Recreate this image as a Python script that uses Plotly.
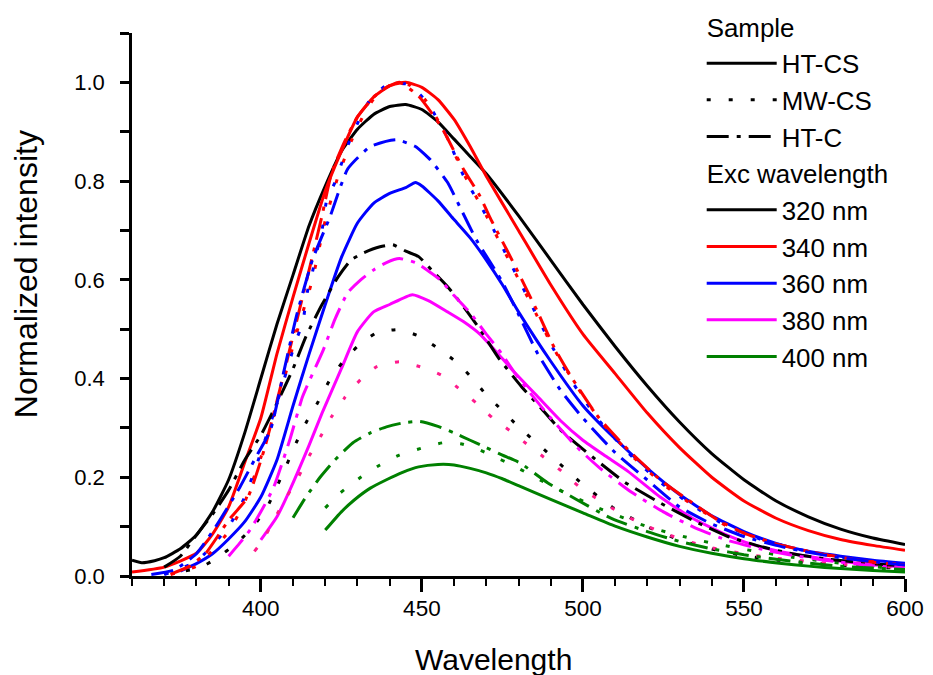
import plotly.graph_objects as go

# ---------------- data ----------------
sample_names = ["HT-CS", "MW-CS", "HT-C"]
exc_names = ["320 nm", "340 nm", "360 nm", "380 nm", "400 nm"]
x_title = "Wavelength"
y_title = "Normalized intensity"

# HT-CS (solid)
x_htcs_320 = [360, 363, 367, 370, 375, 380, 385, 390, 395, 400, 405, 410, 415, 420, 425, 430, 435, 440, 445, 450, 455, 460, 465, 470, 480, 490, 500, 510, 520, 530, 540, 550, 560, 570, 580, 590, 600]
y_htcs_320 = [0.032, 0.027, 0.031, 0.037, 0.055, 0.083, 0.13, 0.195, 0.29, 0.40, 0.51, 0.61, 0.71, 0.79, 0.86, 0.905, 0.935, 0.951, 0.955, 0.945, 0.92, 0.885, 0.85, 0.815, 0.73, 0.64, 0.55, 0.465, 0.385, 0.312, 0.248, 0.195, 0.152, 0.12, 0.095, 0.077, 0.064]

x_htcs_340 = [360, 370, 380, 385, 390, 395, 400, 405, 410, 415, 420, 425, 430, 435, 440, 445, 450, 455, 460, 465, 470, 480, 490, 500, 510, 520, 530, 540, 550, 560, 570, 580, 590, 600]
y_htcs_340 = [0.008, 0.018, 0.046, 0.085, 0.14, 0.23, 0.32, 0.45, 0.565, 0.675, 0.78, 0.86, 0.93, 0.97, 0.993, 1.0, 0.99, 0.965, 0.925, 0.87, 0.81, 0.70, 0.59, 0.49, 0.41, 0.33, 0.26, 0.2, 0.152, 0.117, 0.092, 0.074, 0.062, 0.052]

x_htcs_360 = [375, 380, 385, 390, 395, 400, 405, 410, 415, 420, 425, 430, 435, 440, 445, 448, 450, 455, 460, 465, 470, 475, 480, 490, 500, 510, 520, 530, 540, 550, 560, 570, 580, 590, 600]
y_htcs_360 = [0.01, 0.025, 0.045, 0.075, 0.11, 0.16, 0.235, 0.345, 0.45, 0.55, 0.645, 0.715, 0.755, 0.775, 0.787, 0.797, 0.79, 0.76, 0.722, 0.685, 0.64, 0.59, 0.535, 0.435, 0.345, 0.278, 0.218, 0.165, 0.122, 0.09, 0.066, 0.05, 0.04, 0.032, 0.026]

x_htcs_380 = [400, 405, 409, 415, 419, 425, 430, 435, 440, 447, 452, 458, 463, 468, 473, 478, 486, 493, 500, 507, 514, 524, 534, 544, 553, 565, 580, 590, 600]
y_htcs_380 = [0.073, 0.12, 0.174, 0.265, 0.33, 0.42, 0.495, 0.535, 0.55, 0.57, 0.558, 0.535, 0.515, 0.49, 0.455, 0.418, 0.363, 0.315, 0.275, 0.243, 0.212, 0.16, 0.117, 0.085, 0.063, 0.045, 0.03, 0.023, 0.018]

x_htcs_400 = [420, 425, 429, 434, 439, 444, 449, 455, 460, 465, 470, 475, 480, 490, 500, 510, 520, 530, 540, 550, 561, 570, 580, 590, 600]
y_htcs_400 = [0.093, 0.13, 0.154, 0.178, 0.195, 0.21, 0.221, 0.226, 0.225, 0.218, 0.209, 0.197, 0.183, 0.155, 0.128, 0.101, 0.079, 0.06, 0.046, 0.035, 0.026, 0.02, 0.015, 0.011, 0.008]

# MW-CS (dotted)
x_mwcs_320 = [370, 376, 381, 386, 392.6, 397.6, 402, 408, 411, 414, 417.8, 421.5, 425.5, 430, 436, 443, 449.4, 455.7, 461, 466, 470, 475, 479.6, 489, 499, 509, 520, 530, 541, 551, 561, 571.5, 585, 600]
y_mwcs_320 = [0.005, 0.01, 0.016, 0.035, 0.067, 0.1, 0.14, 0.225, 0.27, 0.31, 0.353, 0.398, 0.434, 0.465, 0.493, 0.499, 0.485, 0.458, 0.432, 0.398, 0.367, 0.335, 0.305, 0.25, 0.191, 0.14, 0.1, 0.073, 0.053, 0.04, 0.032, 0.026, 0.02, 0.015]

x_mwcs_340 = [372, 380, 390, 395, 400, 405, 411, 416, 420, 424, 428, 432, 436, 441, 446, 451, 457, 463, 470, 477, 484, 491, 498, 506, 515, 525, 535, 545, 555, 565, 575, 587, 600]
y_mwcs_340 = [0.003, 0.02, 0.09, 0.15, 0.24, 0.345, 0.49, 0.6, 0.72, 0.81, 0.88, 0.935, 0.975, 0.997, 0.995, 0.965, 0.9, 0.815, 0.73, 0.64, 0.55, 0.46, 0.385, 0.31, 0.245, 0.185, 0.14, 0.1, 0.075, 0.057, 0.043, 0.031, 0.023]

x_mwcs_360 = [370, 380, 390, 395, 400, 405, 410.7, 413, 414.4, 416, 417.5, 419, 420.5, 423, 425.5, 427.7, 431, 434, 439.5, 445.7, 451.6, 457.8, 463, 471, 477.4, 484, 490, 497, 505, 514, 524, 534, 545, 555, 565, 575, 587, 600]
y_mwcs_360 = [0.003, 0.03, 0.1, 0.16, 0.25, 0.35, 0.473, 0.513, 0.574, 0.615, 0.66, 0.70, 0.763, 0.797, 0.844, 0.884, 0.93, 0.966, 0.996, 0.996, 0.96, 0.89, 0.81, 0.718, 0.635, 0.55, 0.47, 0.39, 0.315, 0.25, 0.19, 0.143, 0.1, 0.075, 0.057, 0.043, 0.032, 0.024]

x_mwcs_380 = [398, 400.7, 404, 408, 411.6, 415, 418.5, 422, 426, 431, 436, 443, 449.4, 456, 462, 467, 472, 477.4, 483.6, 489, 494, 499, 505, 511.5, 518, 525, 538.6, 556, 576, 600]
y_mwcs_380 = [0.05, 0.073, 0.113, 0.16, 0.2, 0.243, 0.282, 0.323, 0.361, 0.398, 0.424, 0.434, 0.424, 0.407, 0.377, 0.35, 0.32, 0.294, 0.262, 0.235, 0.209, 0.18, 0.154, 0.128, 0.107, 0.087, 0.059, 0.039, 0.026, 0.017]

x_mwcs_400 = [420, 424.6, 431, 437, 443, 450.4, 456.6, 462, 467, 472, 478, 486, 494, 504, 520, 535.5, 551, 565, 580, 590, 600]
y_mwcs_400 = [0.138, 0.168, 0.2, 0.225, 0.245, 0.26, 0.27, 0.268, 0.258, 0.243, 0.225, 0.197, 0.17, 0.14, 0.1, 0.073, 0.053, 0.038, 0.026, 0.019, 0.013]

# HT-C (dash-dot)
x_htc_320 = [370, 375, 380, 385, 390, 395, 400, 405, 410, 414, 419, 424, 428, 432, 437, 441, 445, 449, 453, 458, 463, 468, 474, 481, 487, 493, 503, 513, 524, 535, 545, 555, 565, 575, 588, 600]
y_htc_320 = [0.018, 0.04, 0.083, 0.125, 0.174, 0.235, 0.285, 0.35, 0.42, 0.485, 0.55, 0.606, 0.64, 0.655, 0.667, 0.671, 0.658, 0.647, 0.62, 0.586, 0.545, 0.5, 0.44, 0.383, 0.34, 0.296, 0.241, 0.19, 0.148, 0.11, 0.08, 0.06, 0.045, 0.035, 0.026, 0.02]

x_htc_340 = [372, 378, 383, 390, 396, 401, 406, 411, 415, 419, 422, 426, 430, 435, 439, 443, 449, 456, 463, 468, 471, 478, 486, 491, 497, 505, 514, 524, 534, 542, 550, 560, 570, 580, 590, 600]
y_htc_340 = [0.004, 0.02, 0.047, 0.113, 0.16, 0.255, 0.38, 0.513, 0.62, 0.73, 0.817, 0.88, 0.93, 0.97, 0.99, 1.0, 0.972, 0.91, 0.823, 0.77, 0.728, 0.64, 0.534, 0.464, 0.397, 0.32, 0.256, 0.195, 0.148, 0.113, 0.087, 0.065, 0.05, 0.038, 0.028, 0.022]

x_htc_360 = [366, 373, 380, 386, 393.5, 398, 403, 407, 411, 416, 421.5, 427, 434, 442, 448, 452.5, 458, 462, 467, 474.6, 480, 486, 493, 500, 510, 519, 530, 539.5, 550, 560, 570, 580, 590, 600]
y_htc_360 = [0.003, 0.012, 0.045, 0.1, 0.18, 0.235, 0.296, 0.41, 0.525, 0.64, 0.728, 0.825, 0.87, 0.884, 0.87, 0.844, 0.797, 0.745, 0.68, 0.6, 0.53, 0.45, 0.377, 0.32, 0.25, 0.2, 0.14, 0.107, 0.08, 0.062, 0.048, 0.037, 0.029, 0.022]

x_htc_380 = [390, 393.5, 396.6, 400, 404, 409, 413, 419.4, 423, 427, 431, 435, 439, 443, 448, 452, 455.7, 460, 465, 470, 474.6, 479, 483.6, 490, 498, 505, 515, 525, 535, 545, 555, 565, 575, 588, 600]
y_htc_380 = [0.04, 0.067, 0.093, 0.13, 0.18, 0.276, 0.364, 0.458, 0.52, 0.574, 0.6, 0.62, 0.635, 0.643, 0.635, 0.618, 0.6, 0.568, 0.533, 0.49, 0.452, 0.41, 0.371, 0.32, 0.262, 0.22, 0.17, 0.13, 0.097, 0.072, 0.055, 0.042, 0.032, 0.022, 0.016]

x_htc_400 = [410, 414, 418.4, 423, 428.6, 434, 439, 444, 449.4, 455, 460, 465, 470, 475, 480.5, 489, 498, 509, 520, 530, 540, 550, 560, 570, 580, 590, 600]
y_htc_400 = [0.118, 0.16, 0.2, 0.235, 0.27, 0.29, 0.302, 0.31, 0.313, 0.303, 0.29, 0.275, 0.26, 0.245, 0.229, 0.189, 0.155, 0.116, 0.09, 0.07, 0.055, 0.043, 0.034, 0.026, 0.02, 0.016, 0.013]

# ---------------- styles ----------------
colors = {"320 nm": "#000000", "340 nm": "#FF0000", "360 nm": "#0000FF",
          "380 nm": "#FF00FF", "400 nm": "#008000"}
dot_colors = dict(colors)
dot_colors["380 nm"] = "#FF1A8C"
dashes = {"HT-CS": "solid", "MW-CS": "4px,18px", "HT-C": "22px,8px,4px,8px"}

curves = [
    ("HT-CS", "320 nm", x_htcs_320, y_htcs_320),
    ("HT-CS", "340 nm", x_htcs_340, y_htcs_340),
    ("HT-CS", "360 nm", x_htcs_360, y_htcs_360),
    ("HT-CS", "380 nm", x_htcs_380, y_htcs_380),
    ("HT-CS", "400 nm", x_htcs_400, y_htcs_400),
    ("MW-CS", "320 nm", x_mwcs_320, y_mwcs_320),
    ("MW-CS", "340 nm", x_mwcs_340, y_mwcs_340),
    ("MW-CS", "360 nm", x_mwcs_360, y_mwcs_360),
    ("MW-CS", "380 nm", x_mwcs_380, y_mwcs_380),
    ("MW-CS", "400 nm", x_mwcs_400, y_mwcs_400),
    ("HT-C", "320 nm", x_htc_320, y_htc_320),
    ("HT-C", "340 nm", x_htc_340, y_htc_340),
    ("HT-C", "360 nm", x_htc_360, y_htc_360),
    ("HT-C", "380 nm", x_htc_380, y_htc_380),
    ("HT-C", "400 nm", x_htc_400, y_htc_400),
]

FONT = "Liberation Sans, Arial, sans-serif"
LEG = 25.9
fig = go.Figure()

# legend entries (group "Sample")
for i, s in enumerate(sample_names):
    fig.add_trace(go.Scatter(
        x=[None], y=[None], mode="lines", name=s,
        line=dict(color="black", width=3, dash=dashes[s]),
        legendgroup="sample", legendrank=i + 1,
        legendgrouptitle=dict(text="Sample", font=dict(size=LEG, family=FONT, color="black")),
        showlegend=True, hoverinfo="skip"))
# legend entries (group "Exc wavelength")
for i, e in enumerate(exc_names):
    fig.add_trace(go.Scatter(
        x=[None], y=[None], mode="lines", name=e,
        line=dict(color=colors[e], width=3),
        legendgroup="exc", legendrank=10 + i,
        legendgrouptitle=dict(text="Exc wavelength", font=dict(size=LEG, family=FONT, color="black")),
        showlegend=True, hoverinfo="skip"))

# data curves
for s, e, xs, ys in curves:
    col = dot_colors[e] if s == "MW-CS" else colors[e]
    fig.add_trace(go.Scatter(
        x=xs, y=ys, mode="lines", showlegend=False,
        name=f"{s} {e}",
        line=dict(color=col, width=3, dash=dashes[s], shape="spline", smoothing=0.5)))

fig.update_layout(
    width=925, height=667,
    margin=dict(l=124, r=28, t=25, b=99, autoexpand=False),
    paper_bgcolor="white", plot_bgcolor="white",
    font=dict(family=FONT, size=22, color="black"),
    legend=dict(x=0.737, y=1.055, xanchor="left", yanchor="top",
                bgcolor="rgba(0,0,0,0)", borderwidth=0,
                font=dict(size=LEG, family=FONT, color="black"),
                tracegroupgap=0, traceorder="grouped", itemwidth=70,
                maxheight=640),
    showlegend=True,
    annotations=[
        dict(text=x_title, xref="paper", yref="paper", x=0.468, y=-0.153,
             xanchor="center", yanchor="middle", showarrow=False,
             font=dict(size=30, family=FONT, color="black")),
        dict(text=y_title, xref="paper", yref="paper", x=-0.137, y=0.556,
             xanchor="center", yanchor="middle", showarrow=False, textangle=-90,
             font=dict(size=32, family=FONT, color="black")),
    ],
)
fig.update_xaxes(
    range=[360, 600], showgrid=False, zeroline=False, automargin=False,
    showline=True, linecolor="black", linewidth=2.5, mirror=False,
    ticks="outside", tickwidth=2.5, ticklen=13, tickcolor="black",
    tick0=400, dtick=50, ticklabelstandoff=-3,
    minor=dict(ticks="outside", dtick=10, tick0=360, ticklen=7, tickwidth=2, tickcolor="black"),
    tickfont=dict(size=22.5, family=FONT),
)
fig.update_yaxes(
    range=[0, 1.1], showgrid=False, zeroline=False, automargin=False,
    showline=True, linecolor="black", linewidth=2.5, mirror=False,
    ticks="outside", tickwidth=2.5, ticklen=9, tickcolor="black",
    tick0=0, dtick=0.2, tickformat=".1f", ticklabelstandoff=11,
    minor=dict(ticks="outside", dtick=0.1, tick0=0, ticklen=9, tickwidth=2.5, tickcolor="black"),
    tickfont=dict(size=22, family=FONT),
)

fig.write_html("out.html")
